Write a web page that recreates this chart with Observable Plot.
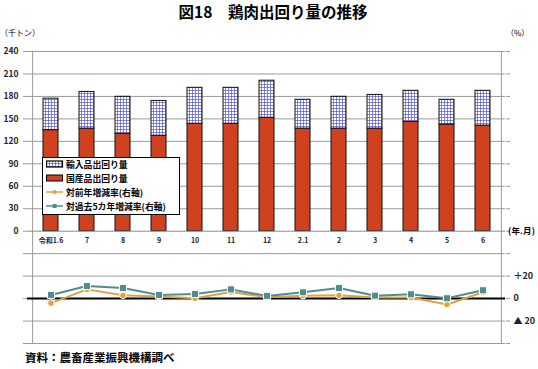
<!DOCTYPE html>
<html>
<head>
<meta charset="utf-8">
<script src="https://cdn.jsdelivr.net/npm/d3@7"></script>
<script src="https://cdn.jsdelivr.net/npm/@observablehq/plot@0.6"></script>
<style>
  body { margin: 0; background: #fff; }
  #wrap { position: relative; width: 538px; height: 369px; font-family: "Noto Sans CJK JP", sans-serif; color: #000; overflow: hidden; }
  .t { position: absolute; white-space: nowrap; }
  #legend { position: absolute; left: 42px; top: 157px; width: 136px; height: 56px; border: 1px solid #000; background: #fff; font-size: 8.8px; font-weight: bold; }
  #legend .row { position: absolute; left: 3px; height: 14px; display: flex; align-items: center; }
  #legend svg { margin-right: 2px; }
</style>
</head>
<body>
<div id="wrap"></div>
<script>
const months = ["令和1.6", "7", "8", "9", "10", "11", "12", "2.1", "2", "3", "4", "5", "6"];
const domestic = [135, 137, 130, 127.5, 143.5, 143.5, 151.5, 137, 137, 137, 146, 142.5, 141];
const total = [177, 186, 179.5, 174, 191.5, 191.5, 201, 175.5, 179.5, 182, 187.5, 175.5, 187.5];
const yoy = [-4.1, 8.2, 2.9, 1.8, 0.3, 5.9, 1.2, 2.6, 2.9, 0.9, 0.9, -5.3, 5.6];
const vs5yr = [3.2, 11.2, 9.4, 3.2, 4.1, 8.2, 2.4, 5.6, 9.4, 2.6, 3.8, 0.3, 7.4];
const leftTicks = [0, 30, 60, 90, 120, 150, 180, 210, 240];
const rightTicks = [20, 0, -20];
const rightLabels = ["＋20", "0", "▲ 20"];

const RED = "#d0421f", ORANGE = "#e2a23c", TEAL = "#4f8d93", GRID = "#9a9a9a";
// right axis (%) shares the frame with the left axis: 0% sits at -90 on the left scale, 20% = 30 units
const toLeft = r => -90 + 1.5 * r;

const bars = months.map((m, i) => ({m, domestic: domestic[i], imported: total[i] - domestic[i], total: total[i]}));
const lineData = [
  ...months.map((m, i) => ({m, s: "yoy", v: yoy[i]})),
  ...months.map((m, i) => ({m, s: "5yr", v: vs5yr[i]}))
];
const allTicks = d3.range(-150, 241, 30);

const chart = Plot.plot({
  width: 538,
  height: 369,
  marginTop: 51,
  marginBottom: 26,
  marginLeft: 27,
  marginRight: 33,
  style: {fontFamily: "Noto Sans CJK JP, sans-serif", background: "transparent"},
  x: {domain: months, paddingInner: 0.59, paddingOuter: 0.295, axis: null},
  y: {domain: [-150, 240], axis: null},
  marks: [
    Plot.ruleY(allTicks.filter(t => t !== 0 && t !== -90), {stroke: GRID, strokeWidth: 1}),
    Plot.ruleX([months[0]], {dx: -18.38, stroke: GRID}),
    Plot.ruleX([months[months.length - 1]], {dx: 18.38, stroke: GRID}),
    Plot.axisY({anchor: "left", ticks: allTicks, tickFormat: () => "", tickSize: 4, stroke: GRID, tickPadding: 0}),
    Plot.axisY({anchor: "left", ticks: leftTicks, tickSize: 0, tickPadding: 9, fontSize: 8.5, fontWeight: "bold", fill: "#222"}),
    Plot.axisY({anchor: "right", ticks: allTicks, tickFormat: () => "", tickSize: 4, stroke: GRID, tickPadding: 0}),
    Plot.axisY({anchor: "right", ticks: rightTicks.map(toLeft), tickFormat: (d, i) => rightLabels[i], tickSize: 0, tickPadding: 8, fontSize: 9, fontWeight: "bold", fill: "#222"}),
    Plot.barY(bars, {x: "m", y1: 0, y2: "domestic", fill: RED, stroke: "#111", strokeWidth: 1}),
    Plot.barY(bars, {x: "m", y1: "domestic", y2: "total", fill: "url(#imp)", stroke: "#111", strokeWidth: 1}),
    Plot.ruleY([0], {stroke: "#8a8a8a", strokeWidth: 1}),
    Plot.text(months, {x: d => d, y: 0, dy: 10, text: d => d, fontSize: 7, fontWeight: "bold", fill: "#222"}),
    Plot.ruleY([toLeft(0)], {stroke: "#000", strokeWidth: 2}),
    Plot.line(lineData, {x: "m", y: d => toLeft(d.v), z: "s", stroke: d => d.s === "yoy" ? ORANGE : TEAL, strokeWidth: 2}),
    Plot.dot(lineData.filter(d => d.s === "yoy"), {x: "m", y: d => toLeft(d.v), r: 3.3, fill: ORANGE, stroke: "#fff", strokeWidth: 1, symbol: "circle"}),
    Plot.dot(lineData.filter(d => d.s === "5yr"), {x: "m", y: d => toLeft(d.v), r: 4, fill: TEAL, stroke: "#fff", strokeWidth: 1, symbol: "square"})
  ]
});

// hatch pattern for imported goods
const ns = "http://www.w3.org/2000/svg";
const defs = document.createElementNS(ns, "defs");
defs.innerHTML = `<pattern id="imp" width="3" height="3" patternUnits="userSpaceOnUse">
  <rect width="3" height="3" fill="#fff"/>
  <path d="M0 0.5H3M0.5 0V3" stroke="#5555c0" stroke-width="0.7"/>
</pattern>`;
chart.insertBefore(defs, chart.firstChild);

const wrap = document.getElementById("wrap");
wrap.appendChild(chart);
chart.style.position = "absolute";
chart.style.left = "0"; chart.style.top = "0";

function addText(txt, css) {
  const d = document.createElement("div");
  d.className = "t";
  d.textContent = txt;
  Object.assign(d.style, css);
  wrap.appendChild(d);
}
addText("図18　鶏肉出回り量の推移", {left: "0", width: "538px", textAlign: "center", top: "1px", lineHeight: "20px", fontSize: "15.5px", fontWeight: "bold", paddingLeft: "8px", boxSizing: "border-box"});
addText("（千トン）", {left: "0px", top: "27px", fontSize: "8px"});
addText("（%）", {left: "506px", top: "27px", fontSize: "8px"});
addText("(年.月)", {left: "508px", top: "224px", fontSize: "8.5px", fontWeight: "bold", letterSpacing: "0.2px"});
addText("資料：農畜産業振興機構調べ", {left: "25px", top: "349px", fontSize: "11.5px", fontWeight: "bold"});

const legend = document.createElement("div");
legend.id = "legend";
const items = [
  {label: "輸入品出回り量", icon: `<svg width="18" height="8"><rect x="0.5" y="1" width="16" height="6" fill="url(#imp)" stroke="#000" stroke-width="1.2"/></svg>`},
  {label: "国産品出回り量", icon: `<svg width="18" height="8"><rect x="0.5" y="1" width="16" height="6" fill="${RED}" stroke="#000" stroke-width="1"/></svg>`},
  {label: "対前年増減率(右軸)", icon: `<svg width="18" height="8"><line x1="0" y1="4" x2="17" y2="4" stroke="${ORANGE}" stroke-width="1.5"/><circle cx="8.5" cy="4" r="2" fill="${ORANGE}"/></svg>`},
  {label: "対過去5カ年増減率(右軸)", icon: `<svg width="18" height="8"><line x1="0" y1="4" x2="17" y2="4" stroke="${TEAL}" stroke-width="1.5"/><rect x="6.5" y="2" width="4" height="4" fill="${TEAL}"/></svg>`}
];
items.forEach((it, i) => {
  const r = document.createElement("div");
  r.className = "row";
  r.style.top = (-1 + i * 14) + "px";
  r.innerHTML = it.icon + `<span>${it.label}</span>`;
  legend.appendChild(r);
});
wrap.appendChild(legend);
</script>
</body>
</html>
